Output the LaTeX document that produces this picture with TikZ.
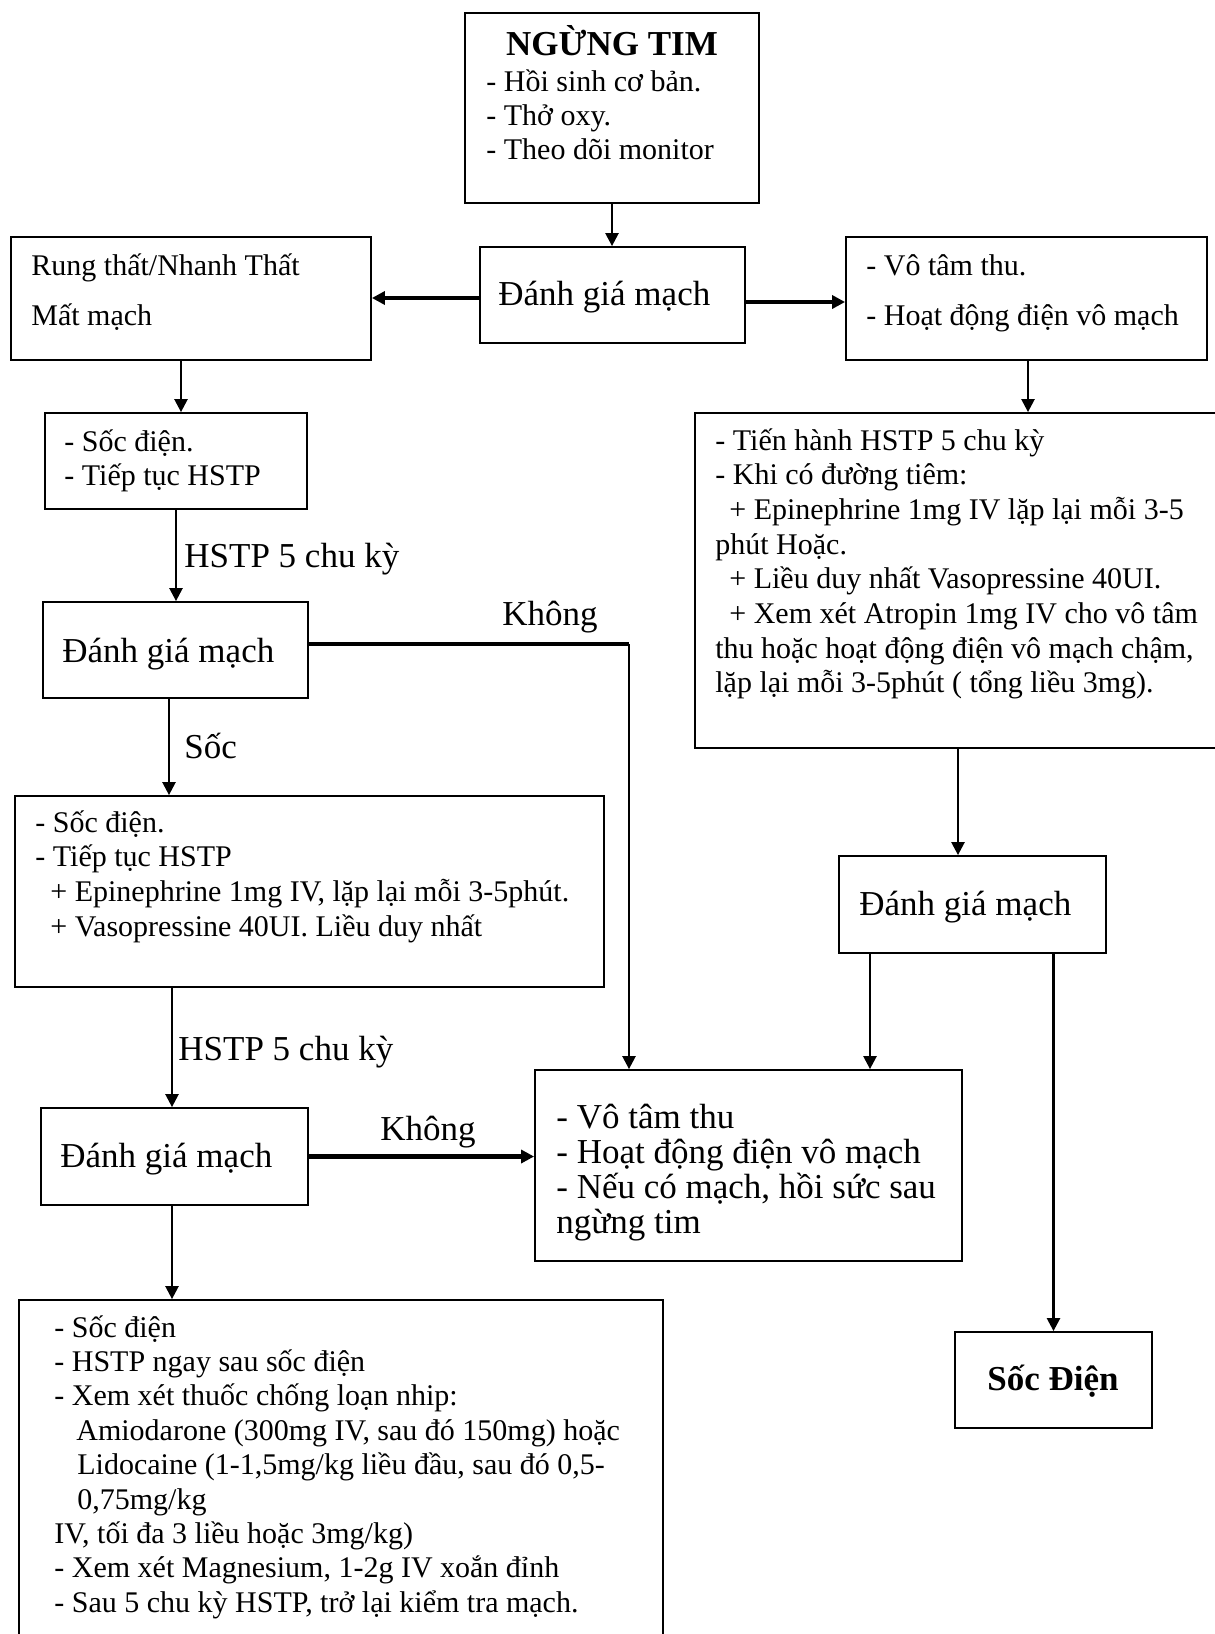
\documentclass[tikz,border=0pt]{standalone}
\usepackage{fontspec}
\setmainfont{Liberation Serif}
\usetikzlibrary{arrows.meta}

% two text sizes used throughout the chart
\newcommand\smallsz{\fontsize{15}{17.25}\selectfont}
\newcommand\bigsz{\fontsize{17.5}{17.5}\selectfont}
% one line of a stacked block; the block sits on the baseline of its first line
\newcommand\tline[1]{\hbox{#1}}
\newcommand\block[2]{\vtop{\baselineskip=#1\lineskiplimit=-100pt #2}}

\begin{document}
\begin{tikzpicture}[x=0.5pt,y=-0.5pt,
  box/.style={draw, line width=0.9pt, inner sep=0pt},
  txt/.style={inner sep=0pt, anchor=base west, font=\smallsz},
  bigtxt/.style={inner sep=0pt, anchor=base west, font=\bigsz},
  arr/.style={line width=1.2pt, -{Triangle[length=6.5pt,width=6.5pt]}},
  thickarr/.style={line width=2.4pt, -{Triangle[length=6.5pt,width=6.5pt]}},
  link/.style={line width=2pt}]

\path[use as bounding box, clip] (0,0) rectangle (1215,1634);

% ---------- boxes ----------
\node[box, minimum width=147pt, minimum height=95pt] (arrest) at (612,108) {};
\node[box, minimum width=132.5pt, minimum height=48pt] (eval1) at (612.5,295) {};
\node[box, minimum width=180pt, minimum height=61.5pt] (vf) at (191,298.5) {};
\node[box, minimum width=180.5pt, minimum height=61.5pt] (asy) at (1026.5,298.5) {};
\node[box, minimum width=131pt, minimum height=48pt] (shock1) at (176,461) {};
\node[box, minimum width=267.5pt, minimum height=167.5pt] (cpr) at (962.5,580.5) {};
\node[box, minimum width=132.5pt, minimum height=48pt] (eval2) at (175.5,650) {};
\node[box, minimum width=294.5pt, minimum height=95.5pt] (shock2) at (309.5,891.5) {};
\node[box, minimum width=133.5pt, minimum height=48.5pt] (evalR) at (972.5,904.5) {};
\node[box, minimum width=133.5pt, minimum height=48.5pt] (eval3) at (174.5,1156.5) {};
\node[box, minimum width=213.5pt, minimum height=95.5pt] (pea) at (748.5,1165.5) {};
\node[box, minimum width=322pt, minimum height=175pt] (drugs) at (341,1475) {};
\node[box, minimum width=98.5pt, minimum height=48pt] (shockR) at (1053.5,1380) {};

% ---------- texts ----------
\node[inner sep=0pt, anchor=base, font=\bigsz\bfseries] (t-title) at (612,55) {NGỪNG TIM};
\node[txt] (t-arrest) at (486,91) {\block{17pt}{%
  \tline{- Hồi sinh cơ bản.}\tline{- Thở oxy.}\tline{- Theo dõi monitor}}};
\node[bigtxt] (t-eval1) at (498,305) {Đánh giá mạch};
\node[txt] (t-vf) at (31,275) {\block{25pt}{%
  \tline{Rung thất/Nhanh Thất}\tline{Mất mạch}}};
\node[txt] (t-asy) at (866,275) {\block{25pt}{%
  \tline{- Vô tâm thu.}\tline{- Hoạt động điện vô mạch}}};
\node[txt] (t-shock1) at (64,451) {\block{17pt}{%
  \tline{- Sốc điện.}\tline{- Tiếp tục HSTP}}};
\node[bigtxt] (l-cyc1) at (184,567) {HSTP 5 chu kỳ};
\node[bigtxt] (t-eval2) at (62,662) {Đánh giá mạch};
\node[bigtxt] (l-no1) at (502,625) {Không};
\node[bigtxt] (l-shock) at (184,758) {Sốc};
\node[txt] (t-cpr) at (715,450) {\block{17.35pt}{%
  \tline{- Tiến hành HSTP 5 chu kỳ}
  \tline{- Khi có đường tiêm:}
  \tline{\kern7pt+ Epinephrine 1mg IV lặp lại mỗi 3-5}
  \tline{phút Hoặc.}
  \tline{\kern7pt+ Liều duy nhất Vasopressine 40UI.}
  \tline{\kern7pt+ Xem xét Atropin 1mg IV cho vô tâm}
  \tline{thu hoặc hoạt động điện vô mạch chậm,}
  \tline{lặp lại mỗi 3-5phút ( tổng liều 3mg).}}};
\node[txt] (t-shock2) at (35,832) {\block{17.4pt}{%
  \tline{- Sốc điện.}
  \tline{- Tiếp tục HSTP}
  \tline{\kern7.5pt+ Epinephrine 1mg IV, lặp lại mỗi 3-5phút.}
  \tline{\kern7.5pt+ Vasopressine 40UI. Liều duy nhất}}};
\node[bigtxt] (l-cyc2) at (178,1060) {HSTP 5 chu kỳ};
\node[bigtxt] (t-evalR) at (859,915) {Đánh giá mạch};
\node[bigtxt] (t-eval3) at (60,1167) {Đánh giá mạch};
\node[bigtxt] (l-no2) at (380,1140) {Không};
\node[bigtxt] (t-pea) at (556,1128) {\block{17.5pt}{%
  \tline{- Vô tâm thu}
  \tline{- Hoạt động điện vô mạch}
  \tline{- Nếu có mạch, hồi sức sau}
  \tline{ngừng tim}}};
\node[txt] (t-drugs) at (54,1337) {\block{17.2pt}{%
  \tline{- Sốc điện}
  \tline{- HSTP ngay sau sốc điện}
  \tline{- Xem xét thuốc chống loạn nhip:}
  \tline{\kern11pt Amiodarone (300mg IV, sau đó 150mg) hoặc}
  \tline{\kern11.5pt Lidocaine (1-1,5mg/kg liều đầu, sau đó 0,5-}
  \tline{\kern11.5pt 0,75mg/kg}
  \tline{IV, tối đa 3 liều hoặc 3mg/kg)}
  \tline{- Xem xét Magnesium, 1-2g IV xoắn đỉnh}
  \tline{- Sau 5 chu kỳ HSTP, trở lại kiểm tra mạch.}}};
\node[inner sep=0pt, anchor=base west, font=\bigsz\bfseries] (t-shockR) at (987,1390) {Sốc Điện};

% ---------- connectors ----------
\draw[arr] (arrest.south) -- (arrest.south |- eval1.north);
\draw[thickarr] ([yshift=-1.5pt]eval1.west) -- ([yshift=-1.5pt]eval1.west -| vf.east);
\draw[thickarr] ([yshift=-3.5pt]eval1.east) -- ([yshift=-3.5pt]eval1.east -| asy.west);
\draw[arr] ([xshift=2.5pt]shock1.north |- vf.south) -- ([xshift=2.5pt]shock1.north);
\draw[arr] ([xshift=0.75pt]asy.south) -- ([xshift=0.75pt]asy.south |- cpr.north);
\draw[arr] (shock1.south) -- (shock1.south |- eval2.north);
\coordinate (bend) at (629,644);
\draw[link] ([yshift=3pt]eval2.east) -- (bend);
\draw[arr] (bend) -- (bend |- pea.north);
\draw[arr] ([xshift=-3.25pt]eval2.south) -- ([xshift=-3.25pt]eval2.south |- shock2.north);
\draw[arr] ([xshift=-1.25pt]eval3.north |- shock2.south) -- ([xshift=-1.25pt]eval3.north);
\draw[thickarr] (eval3.east) -- (eval3.east -| pea.west);
\draw[arr] ([xshift=-1.25pt]eval3.south) -- ([xshift=-1.25pt]eval3.south |- drugs.north);
\draw[arr] ([xshift=-7.25pt]evalR.north |- cpr.south) -- ([xshift=-7.25pt]evalR.north);
\draw[arr] ([xshift=-51.25pt]evalR.south) -- ([xshift=-51.25pt]evalR.south |- pea.north);
\draw[arr] (shockR.north |- evalR.south) -- (shockR.north);

\end{tikzpicture}
\end{document}
